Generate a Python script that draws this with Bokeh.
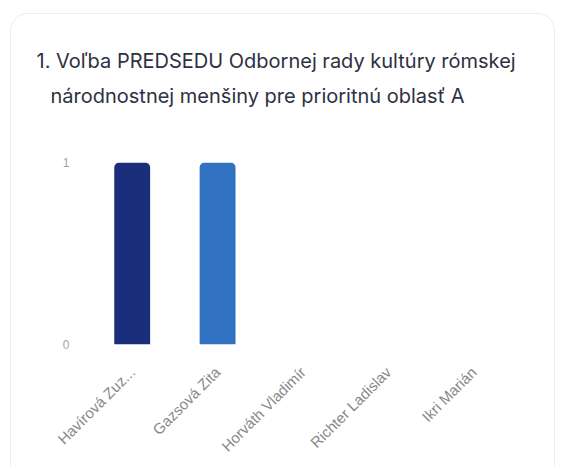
import math
from bokeh.plotting import figure
from bokeh.models import Title, FixedTicker
from bokeh.embed import file_html
from bokeh.resources import INLINE

candidates = ["Havírová Zuz...", "Gazsová Zita", "Horváth Vladimír", "Richter Ladislav", "Ikri Marián"]
votes = [1, 1, 0, 0, 0]
colors = ["#1a2e7b", "#3072bf", "#4a90d9", "#6aa8e6", "#8cc0f0"]
title_lines = ["1. Voľba PREDSEDU Odbornej rady kultúry rómskej",
               "národnostnej menšiny pre prioritnú oblasť A"]
y_ticks = [0, 1]

p = figure(x_range=candidates, y_range=(0, 1), width=545, height=453,
           output_backend="svg", toolbar_location=None,
           min_border_left=78, min_border_right=40, min_border_top=148, min_border_bottom=123)
p.margin = (13, 0, 0, 10)
p.styles = {"border-top": "1px solid #ececec", "border-left": "1px solid #ececec",
            "border-right": "1px solid #ececec", "border-radius": "18px 18px 0 0",
            "overflow": "hidden"}
p.outline_line_color = None
p.background_fill_color = "white"
p.border_fill_color = "white"

p.vbar(x=candidates, top=votes, width=0.42, fill_color=colors, line_color=None,
       border_radius=(5, 5, 0, 0))

p.yaxis.ticker = FixedTicker(ticks=y_ticks)
p.yaxis.axis_line_color = None
p.yaxis.major_tick_line_color = None
p.yaxis.minor_tick_line_color = None
p.yaxis.major_label_text_color = "#a3a3a3"
p.yaxis.major_label_text_font = "Arial"
p.yaxis.major_label_text_font_size = "12px"
p.yaxis.major_label_standoff = 14

p.xaxis.axis_line_color = None
p.xaxis.major_tick_line_color = None
p.xaxis.major_label_orientation = math.pi / 4
p.xaxis.major_label_text_color = "#888888"
p.xaxis.major_label_text_font = "Arial"
p.xaxis.major_label_text_font_size = "15px"
p.xaxis.major_label_standoff = 19

p.xgrid.grid_line_color = None
p.ygrid.grid_line_color = "#dddddd"
p.ygrid.ticker = FixedTicker(ticks=y_ticks)

title_style = dict(text_font="Inter", text_font_size="20px", text_font_style="normal",
                   text_color="#2d3142")
spacer = Title(text=" ", align="left", standoff=29, **title_style)
t2 = Title(text=title_lines[1], align="left", offset=-39, standoff=0, **title_style)
t1 = Title(text=title_lines[0], align="left", offset=-53, standoff=17, **title_style)
p.add_layout(spacer, "above")
p.add_layout(t2, "above")
p.add_layout(t1, "above")

open("out.html", "w").write(file_html(p, INLINE))
